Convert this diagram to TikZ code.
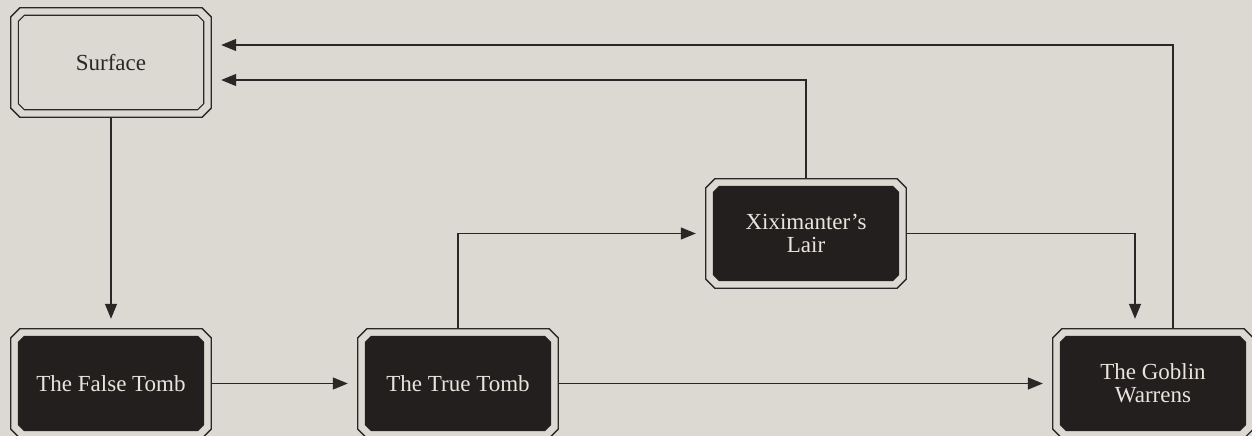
\documentclass[tikz,border=0pt]{standalone}
\usepackage{fontspec}
\setmainfont{Liberation Serif}
\usetikzlibrary{arrows.meta}
\definecolor{bgc}{HTML}{DCD9D2}
\definecolor{ink}{HTML}{2A2727}
\definecolor{darkfill}{HTML}{231F1F}
\definecolor{paletext}{HTML}{E9E5DD}
% #1 node name, #2 inset, #3 corner cut, #4 path options
\newcommand\chamferpath[4]{%
  \path[#4]
    ([xshift=#2+#3,yshift=-#2]#1.north west) --
    ([xshift=-#2-#3,yshift=-#2]#1.north east) --
    ([xshift=-#2,yshift=-#2-#3]#1.north east) --
    ([xshift=-#2,yshift=#2+#3]#1.south east) --
    ([xshift=-#2-#3,yshift=#2]#1.south east) --
    ([xshift=#2+#3,yshift=#2]#1.south west) --
    ([xshift=#2,yshift=#2+#3]#1.south west) --
    ([xshift=#2,yshift=-#2-#3]#1.north west) -- cycle;}
\newcommand\lightroom[1]{%
  \chamferpath{#1}{0pt}{9pt}{draw=ink, line width=1.3pt, fill=bgc}%
  \chamferpath{#1}{7.5pt}{6pt}{draw=ink, line width=1.1pt}}
\newcommand\darkroom[1]{%
  \chamferpath{#1}{0pt}{9pt}{draw=ink, line width=1.3pt, fill=bgc}%
  \chamferpath{#1}{7.5pt}{6pt}{draw=darkfill, line width=1pt, fill=darkfill}}
\begin{document}
\begin{tikzpicture}[x=1pt,y=-1pt,
  room/.style={rectangle, minimum width=200pt, minimum height=109pt, inner sep=0pt,
    font=\fontsize{23}{23}\selectfont, align=center},
  lightlabel/.style={room, text=ink},
  darklabel/.style={room, text=paletext},
  conn/.style={draw=ink, line width=1.3pt},
  arr/.style={conn, -{Triangle[length=15pt,width=12pt]}, shorten >=10pt}
]
\fill[bgc] (0,0) rectangle (1252,436);
\useasboundingbox (0,0) rectangle (1252,436);

\node[room] (S) at (111,62.5) {};
\node[room] (F) at (111,383.5) {};
\node[room] (T) at (458,383.5) {};
\node[room] (X) at (806,233.5) {};
\node[room] (G) at (1153,383.5) {};

\lightroom{S}
\darkroom{F}
\darkroom{T}
\darkroom{X}
\darkroom{G}

\node[lightlabel] (Sl) at (S.center) {Surface};
\node[darklabel] (Fl) at (F.center) {The False Tomb};
\node[darklabel] (Tl) at (T.center) {The True Tomb};
\node[darklabel] (Xl) at (X.center) {Xiximanter's\\Lair};
\node[darklabel] (Gl) at (G.center) {The Goblin\\Warrens};

\draw[arr] (S.south) -- (F.north);
\draw[arr] (F.east) -- (T.west);
\draw[arr] (T.north) |- (X.west);
\draw[arr] (T.east) -- (G.west);
\draw[arr] (X.east) -| ([xshift=-18pt]G.north);
\draw[arr] (X.north) |- ([yshift=-17.5pt]S.east);
\draw[arr] ([xshift=20pt]G.north) |- ([yshift=17.5pt]S.east);
\end{tikzpicture}
\end{document}
